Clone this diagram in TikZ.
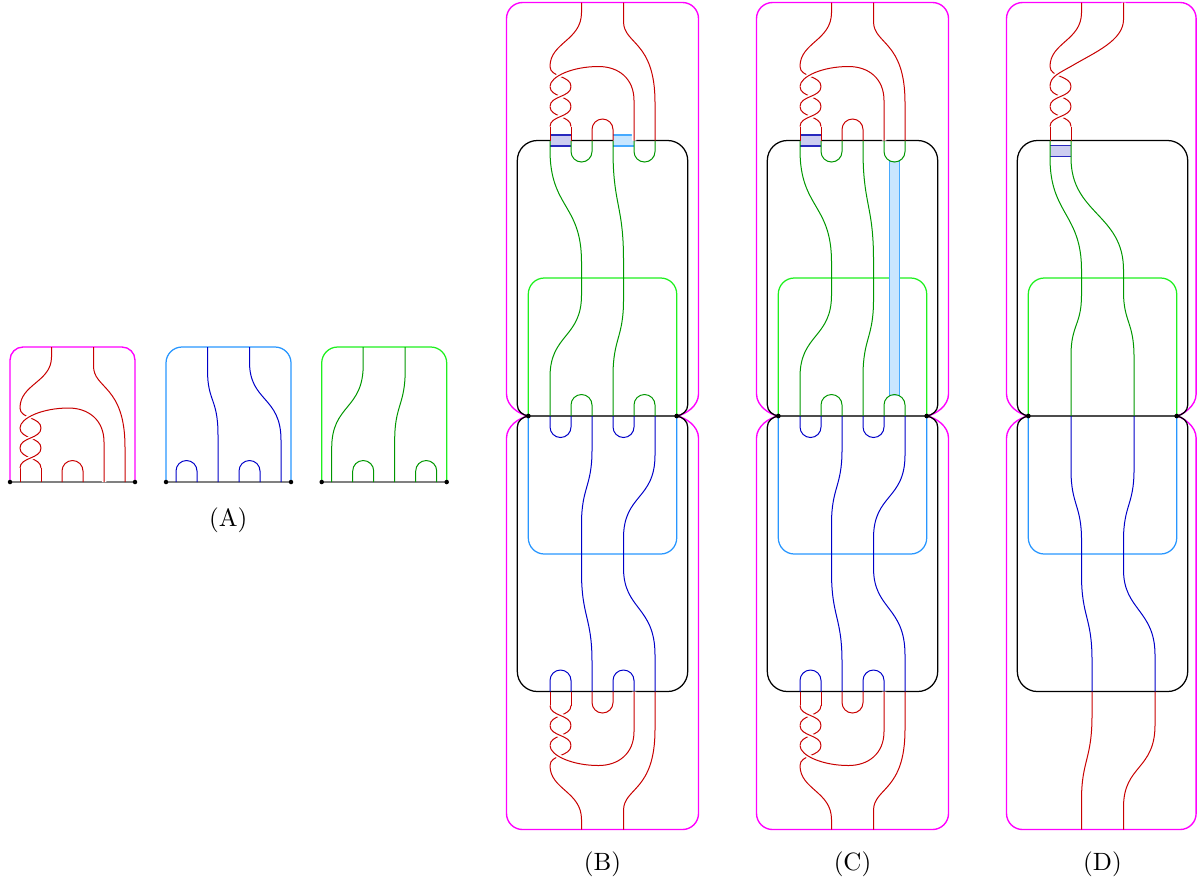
\documentclass[tikz,border=0pt]{standalone}
\definecolor{strred}{RGB}{200,0,0}
\definecolor{strgreen}{RGB}{0,150,0}
\definecolor{strblue}{RGB}{0,0,200}
\definecolor{boxgreen}{RGB}{30,240,30}
\definecolor{boxblue}{RGB}{40,150,255}
\definecolor{boxmag}{RGB}{255,0,255}
\definecolor{lavfill}{RGB}{205,205,240}
\definecolor{lavedge}{RGB}{40,40,190}
\definecolor{lbfill}{RGB}{200,230,255}
\definecolor{lbedge}{RGB}{70,170,255}
\tikzset{
  rstr/.style={draw=strred,line width=0.4pt},
  gstr/.style={draw=strgreen,line width=0.4pt},
  bstr/.style={draw=strblue,line width=0.4pt},
  ovr/.style={preaction={draw=white,line width=1.8pt}},
  magbox/.style={draw=boxmag,line width=0.55pt},
  blkbox/.style={draw=black,line width=0.5pt},
  grnbox/.style={draw=boxgreen,line width=0.5pt,rounded corners=6.4pt},
  blubox/.style={draw=boxblue,line width=0.5pt,rounded corners=6.4pt},
  midlineA/.style={draw=black!50,line width=0.5pt},
  midlineB/.style={draw=black!70,line width=0.5pt},
  lavedges/.style={draw=lavedge,line width=0.45pt},
  lbedges/.style={draw=lbedge,line width=0.45pt},
  lbl/.style={font=\normalsize,inner sep=0pt}
}
% hump: style, x-left, y-base, s (1 = up, -1 = down)
\newcommand{\hump}[4]{%
  \draw[#1] (#2,#3) -- (#2,{#3-11*(#4)})
    .. controls (#2,{#3-16.8*(#4)}) and ({#2+4.7},{#3-21.5*(#4)}) .. ({#2+10.5},{#3-21.5*(#4)})
    .. controls ({#2+16.3},{#3-21.5*(#4)}) and ({#2+21},{#3-16.8*(#4)}) .. ({#2+21},{#3-11*(#4)})
    -- ({#2+21},#3);}
\newcommand{\twistcore}[1]{%
  \draw[rstr] (-52.5,0) -- (-52.5,-14);
  \draw[rstr] (-31.5,0) -- (-31.5,-14);
  \draw[rstr] (-31.5,-14) .. controls (-31.5,-25) and (-52.5,-23) .. (-52.5,-34);
  \draw[rstr,ovr] (-52.5,-14) .. controls (-52.5,-25) and (-31.5,-23) .. (-31.5,-34);
  \draw[rstr] (-31.5,-34) .. controls (-31.5,-45) and (-52.5,-43) .. (-52.5,-54);
  \draw[rstr,ovr] (-52.5,-34) .. controls (-52.5,-45) and (-31.5,-43) .. (-31.5,-54);
  \draw[rstr] (-31.5,-54) .. controls (-31.5,-65) and (-52.5,-63) .. (-52.5,-74)
    .. controls (-52.5,-98) and (-21,-100) .. (-21,{-#1+10}) -- (-21,-#1);}
\newcommand{\bigarc}{%
  \draw[rstr,ovr] (-52.5,-54) .. controls (-52.5,-64) and (-30,-74) .. (-4,-74)
    .. controls (16,-74) and (31.5,-62) .. (31.5,-40) -- (31.5,0);}
\newcommand{\capright}[1]{%
  \hump{rstr}{-10.5}{0}{1}
  \draw[rstr] (21,-#1) -- (21,{-#1+19}) .. controls (21,{-#1+42}) and (52.5,{-#1+38}) .. (52.5,{-#1+100}) -- (52.5,0);}
\newcommand{\dover}{%
  \draw[rstr,ovr] (-52.5,-54) .. controls (-52.5,-64) and (-44,-67) .. (-30,-75)
    .. controls (-8,-88) and (21,-100) .. (21,-121) -- (21,-138);}
% #1 = right half-width of the magenta frame
\newcommand{\panelboxes}[1]{%
  \draw[magbox] (-74.2,416) .. controls (-83,414.5) and (-96,406) .. (-96,394) -- (-96,18.5)
    .. controls (-96,9.7) and (-88.8,2.5) .. (-80,2.5) -- ({#1-16},2.5)
    .. controls ({#1-7.2},2.5) and (#1,9.7) .. (#1,18.5) -- (#1,394)
    .. controls (#1,406) and ({#1-13},414.5) .. (74.2,416);
  \draw[magbox] (-74.2,416) .. controls (-83,417.5) and (-96,426) .. (-96,438) -- (-96,813.5)
    .. controls (-96,822.3) and (-88.8,829.5) .. (-80,829.5) -- ({#1-16},829.5)
    .. controls ({#1-7.2},829.5) and (#1,822.3) .. (#1,813.5) -- (#1,438)
    .. controls (#1,426) and ({#1-13},417.5) .. (74.2,416);
  \draw[blkbox] (-74.2,416) .. controls (-80,415) and (-85.2,411) .. (-85.2,405) -- (-85.2,160.5)
    .. controls (-85.2,149.5) and (-76.2,140.5) .. (-65.2,140.5) -- (65.2,140.5)
    .. controls (76.2,140.5) and (85.2,149.5) .. (85.2,160.5) -- (85.2,405)
    .. controls (85.2,411) and (80,415) .. (74.2,416);
  \draw[blkbox] (-74.2,416) .. controls (-80,417) and (-85.2,421) .. (-85.2,427) -- (-85.2,671.5)
    .. controls (-85.2,682.5) and (-76.2,691.5) .. (-65.2,691.5) -- (65.2,691.5)
    .. controls (76.2,691.5) and (85.2,682.5) .. (85.2,671.5) -- (85.2,427)
    .. controls (85.2,421) and (80,417) .. (74.2,416);
  \draw[grnbox] (-74.2,416) -- (-74.2,278) -- (74.2,278) -- (74.2,416);
  \draw[blubox] (-74.2,416) -- (-74.2,554) -- (74.2,554) -- (74.2,416);
  \draw[midlineB] (-74.2,416) -- (74.2,416);
  \fill (-74.2,416) circle (0.95pt);
  \fill (74.2,416) circle (0.95pt);}
\newcommand{\lavrect}[1]{%
  \fill[lavfill] (-52.5,#1) rectangle (-31.5,{#1+11});
  \draw[lavedges] (-52.5,#1) -- (-31.5,#1) (-52.5,{#1+11}) -- (-31.5,{#1+11});}
\newcommand{\midBC}{%
  \draw[gstr] (-52.5,140.5) -- (-52.5,150) .. controls (-52.5,208) and (-21,204) .. (-21,262) -- (-21,295)
    .. controls (-21,338) and (-52.5,334) .. (-52.5,377) -- (-52.5,416);
  \draw[gstr] (10.5,140.5) -- (10.5,150) .. controls (10.5,205) and (21,205) .. (21,260) -- (21,300)
    .. controls (21,338) and (10.5,338) .. (10.5,376) -- (10.5,416);
  \hump{gstr}{-31.5}{140.5}{-1}
  \hump{gstr}{31.5}{140.5}{-1}
  \hump{gstr}{-31.5}{416}{1}
  \hump{gstr}{31.5}{416}{1}
  \hump{bstr}{-52.5}{416}{-1}
  \hump{bstr}{10.5}{416}{-1}
  \draw[bstr] (-10.5,416) -- (-10.5,450) .. controls (-10.5,487) and (-21,487) .. (-21,524) -- (-21,572)
    .. controls (-21,617) and (-10.5,617) .. (-10.5,662) -- (-10.5,691.5);
  \draw[bstr] (52.5,416) -- (52.5,455) .. controls (52.5,500) and (21,494) .. (21,538) -- (21,568)
    .. controls (21,610) and (52.5,606) .. (52.5,655) -- (52.5,691.5);
  \hump{bstr}{-52.5}{691.5}{1}
  \hump{bstr}{10.5}{691.5}{1}
  \begin{scope}[shift={(0,140.5)}]
    \twistcore{138}\bigarc\capright{138}
  \end{scope}
  \begin{scope}[shift={(0,691.5)},yscale=-1]
    \twistcore{138}\bigarc\capright{138}
  \end{scope}}
\begin{document}
\begin{tikzpicture}[x=0.4pt,y=-0.4pt]
\useasboundingbox (0,0) rectangle (1197,882);
% ---------- Panel A ----------
\draw[magbox,rounded corners=5.2pt] (10,482) -- (10,347) -- (135,347) -- (135,482);
\draw[midlineA] (10,482) -- (135,482);
\fill (10,482) circle (0.9pt); \fill (135,482) circle (0.9pt);
\begin{scope}[shift={(72.5,482)}]
  \twistcore{135}\bigarc\capright{135}
\end{scope}
\draw[blubox] (166,482) -- (166,347) -- (291,347) -- (291,482);
\draw[midlineA] (166,482) -- (291,482);
\fill (166,482) circle (0.9pt); \fill (291,482) circle (0.9pt);
\hump{bstr}{176}{482}{1}
\hump{bstr}{239}{482}{1}
\draw[bstr] (207.5,347) -- (207.5,370) .. controls (207.5,402) and (218,398) .. (218,435) -- (218,482);
\draw[bstr] (249.5,347) -- (249.5,362) .. controls (249.5,402) and (281,396) .. (281,440) -- (281,482);
\draw[grnbox] (321.7,482) -- (321.7,347) -- (446.7,347) -- (446.7,482);
\draw[midlineA] (321.7,482) -- (446.7,482);
\fill (321.7,482) circle (0.9pt); \fill (446.7,482) circle (0.9pt);
\hump{gstr}{352.7}{482}{1}
\hump{gstr}{415.7}{482}{1}
\draw[gstr] (363.2,347) -- (363.2,365) .. controls (363.2,410) and (331.7,404) .. (331.7,448) -- (331.7,482);
\draw[gstr] (405.2,347) -- (405.2,370) .. controls (405.2,405) and (394.7,405) .. (394.7,440) -- (394.7,482);
\node[lbl] (labA) at (228.3,520) {(A)};
% ---------- Panel B ----------
\begin{scope}[shift={(602.5,0)}]
  \panelboxes{96}
  \lavrect{135}
  \fill[lbfill] (10.5,135) rectangle (31.5,146);
  \draw[lbedges] (10.5,135) -- (31.5,135) (10.5,146) -- (31.5,146);
  \midBC
  \node[lbl] (labB) at (0,864) {(B)};
\end{scope}
% ---------- Panel C ----------
\begin{scope}[shift={(852.5,0)}]
  \panelboxes{96}
  \lavrect{135}
  \fill[lbfill] (36.8,160.6) rectangle (47.2,395.9);
  \draw[lbedges] (36.8,160.6) -- (36.8,395.9) (47.2,160.6) -- (47.2,395.9);
  \midBC
  \node[lbl] (labC) at (0,864) {(C)};
\end{scope}
% ---------- Panel D ----------
\begin{scope}[shift={(1102.5,0)}]
  \panelboxes{93.6}
  \lavrect{145.7}
  \begin{scope}[shift={(0,140.5)}]
    \twistcore{138}\dover
  \end{scope}
  \draw[gstr] (-52.5,140.5) -- (-52.5,158) .. controls (-52.5,214) and (-21,214) .. (-21,270) -- (-21,295)
    .. controls (-21,325) and (-31.5,325) .. (-31.5,355) -- (-31.5,416);
  \draw[gstr] (-31.5,140.5) -- (-31.5,158) .. controls (-31.5,214) and (21,214) .. (21,270) -- (21,292)
    .. controls (21,322) and (31.5,322) .. (31.5,357) -- (31.5,416);
  \draw[bstr] (-31.5,416) -- (-31.5,470) .. controls (-31.5,505) and (-21,505) .. (-21,540) -- (-21,575)
    .. controls (-21,617) and (-10.5,617) .. (-10.5,660) -- (-10.5,691.5);
  \draw[bstr] (31.5,416) -- (31.5,470) .. controls (31.5,505) and (21,505) .. (21,540) -- (21,570)
    .. controls (21,610) and (52.5,610) .. (52.5,655) -- (52.5,691.5);
  \draw[rstr] (-10.5,691.5) -- (-10.5,715) .. controls (-10.5,760) and (-21,760) .. (-21,800) -- (-21,829.5);
  \draw[rstr] (52.5,691.5) -- (52.5,725) .. controls (52.5,770) and (21,765) .. (21,807) -- (21,829.5);
  \node[lbl] (labD) at (0,864) {(D)};
\end{scope}
\end{tikzpicture}
\end{document}
